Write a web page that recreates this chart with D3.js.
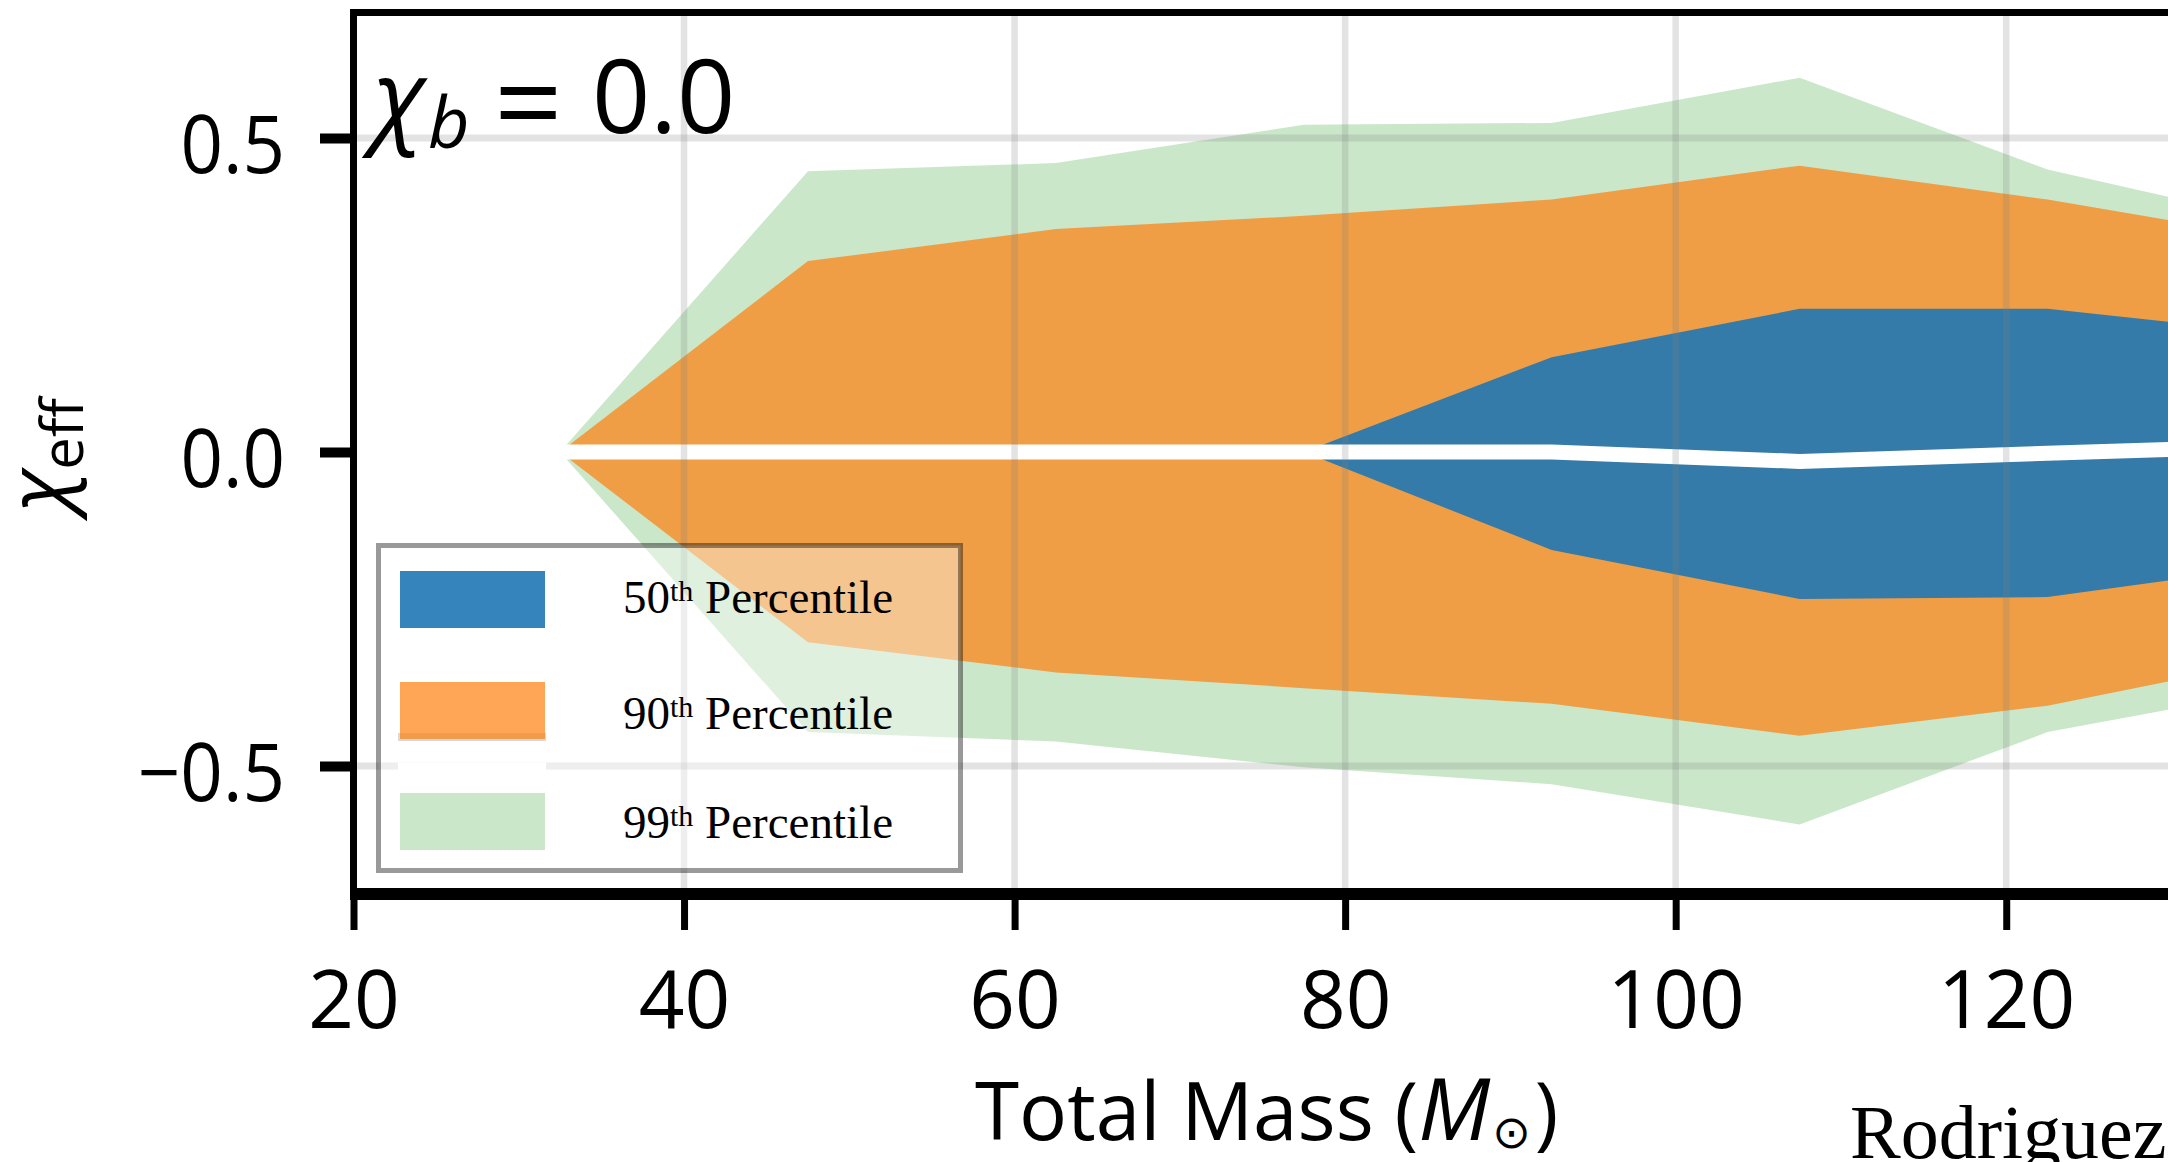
<!DOCTYPE html>
<html>
<head>
<meta charset="utf-8">
<script src="https://cdn.jsdelivr.net/npm/d3@7"></script>
<style>
  html, body { margin: 0; padding: 0; background: #fff; }
  svg { display: block; }
</style>
</head>
<body>
<svg id="chart" width="2168" height="1162"></svg>
<script>
// Bin centres (total mass, solar masses) and percentile bands of chi_eff.
const mass = [32.5, 47.5, 62.5, 77.5, 92.5, 107.5, 122.5, 137.5];
const p99Upper = [0, 0.447, 0.460, 0.521, 0.524, 0.596, 0.450, 0.360];
const p99Lower = [0, -0.446, -0.461, -0.502, -0.529, -0.593, -0.446, -0.373];
const p90Upper = [0, 0.304, 0.355, 0.376, 0.402, 0.456, 0.402, 0.335];
const p90Lower = [0, -0.303, -0.351, -0.376, -0.401, -0.452, -0.404, -0.325];
const p50Upper = [0, 0, 0, 0, 0.151, 0.228, 0.228, 0.186];
const p50Lower = [0, 0, 0, 0, -0.156, -0.234, -0.231, -0.177];
const median = [0, 0, 0, 0, 0, -0.015, -0.002, 0.010];

const xTicks = [20, 40, 60, 80, 100, 120];
const xTickLabels = ['20', '40', '60', '80', '100', '120'];
const yTicks = [-0.5, 0, 0.5];
const yTickLabels = ['\u22120.5', '0.0', '0.5'];
const percentiles = ['50', '90', '99'];

const svg = d3.select('#chart');
const plot = {left: 353.5, right: 2171.5, top: 12.4, bottom: 891.6};

const x = d3.scaleLinear().domain([20, 130]).range([plot.left, plot.right]);
const y = d3.scaleLinear().domain([-0.7, 0.7]).range([plot.bottom, plot.top]);

const sans = '"Open Sans", "Noto Sans", sans-serif';
const serif = '"Liberation Serif", "DejaVu Serif", serif';

svg.append('defs').append('clipPath').attr('id', 'plotClip')
    .append('rect')
    .attr('x', plot.left).attr('y', plot.top)
    .attr('width', plot.right - plot.left)
    .attr('height', plot.bottom - plot.top);

const body = svg.append('g').attr('clip-path', 'url(#plotClip)');

// Bands keyed by percentile; drawn widest first so narrow ones sit on top.
const bands = {
  '99': {lo: p99Lower, hi: p99Upper, color: '#2ca02c', alpha: 0.25},
  '90': {lo: p90Lower, hi: p90Upper, color: '#ff7f0e', alpha: 0.7},
  '50': {lo: p50Lower, hi: p50Upper, color: '#1f77b4', alpha: 0.9},
};
['99', '90', '50'].forEach(k => {
  const b = bands[k];
  const area = d3.area()
      .x((d, i) => x(mass[i]))
      .y0((d, i) => y(b.lo[i]))
      .y1((d, i) => y(b.hi[i]));
  body.append('path')
      .attr('d', area(mass))
      .attr('fill', b.color)
      .attr('fill-opacity', b.alpha);
});

// Horizontal grid (the zero line is hidden under the median).
body.selectAll('.hgrid')
    .data(yTicks.filter(d => d !== 0))
    .join('line')
    .attr('x1', plot.left).attr('x2', plot.right)
    .attr('y1', d => y(d)).attr('y2', d => y(d))
    .attr('stroke', '#808080').attr('stroke-opacity', 0.22)
    .attr('stroke-width', 7);

const line = d3.line().x((d, i) => x(mass[i])).y(d => y(d));
body.append('path')
    .attr('d', line(median))
    .attr('fill', 'none')
    .attr('stroke', '#fff')
    .attr('stroke-width', 15);

body.selectAll('.vgrid')
    .data(xTicks)
    .join('line')
    .attr('x1', d => x(d)).attr('x2', d => x(d))
    .attr('y1', plot.top).attr('y2', plot.bottom)
    .attr('stroke', '#808080').attr('stroke-opacity', 0.22)
    .attr('stroke-width', 6.5);

// Legend
const legend = svg.append('g');
legend.append('rect')
    .attr('x', 378.5).attr('y', 545.5)
    .attr('width', 582).attr('height', 325)
    .attr('fill', '#fff').attr('fill-opacity', 0.4)
    .attr('stroke', '#000').attr('stroke-opacity', 0.4)
    .attr('stroke-width', 5);
legend.append('line')
    .attr('x1', 398).attr('x2', 546).attr('y1', 737).attr('y2', 737)
    .attr('stroke', '#d9d9d9').attr('stroke-width', 8);
legend.append('line')
    .attr('x1', 398).attr('x2', 546).attr('y1', 766.5).attr('y2', 766.5)
    .attr('stroke', '#fff').attr('stroke-width', 8);

const rowTop = [571, 682, 793];
const rowBase = [613, 729, 838];
percentiles.forEach((p, i) => {
  const b = bands[p];
  legend.append('rect')
      .attr('x', 400).attr('y', rowTop[i])
      .attr('width', 145).attr('height', 57)
      .attr('fill', b.color).attr('fill-opacity', b.alpha);
  const t = legend.append('text')
      .attr('x', 623).attr('y', rowBase[i])
      .attr('font-family', serif).attr('font-size', 47).attr('fill', '#000');
  t.append('tspan').text(p);
  t.append('tspan').attr('font-size', 30).attr('dy', -12.5).text('th');
  t.append('tspan').attr('dy', 12.5).text(' Percentile');
});

// Frame
const frame = svg.append('g').attr('stroke', '#000').attr('fill', 'none');
frame.append('line')
    .attr('x1', plot.left - 3.5).attr('x2', 2168)
    .attr('y1', plot.top).attr('y2', plot.top).attr('stroke-width', 7);
frame.append('line')
    .attr('x1', plot.left).attr('x2', plot.left)
    .attr('y1', plot.top - 3.5).attr('y2', 900).attr('stroke-width', 7);
frame.append('line')
    .attr('x1', plot.left).attr('x2', 2168)
    .attr('y1', 891).attr('y2', 891).attr('stroke-width', 6);
frame.append('line')
    .attr('x1', plot.left).attr('x2', 2168)
    .attr('y1', 897).attr('y2', 897).attr('stroke-width', 6);

// Axes
const xAxis = svg.append('g')
    .attr('transform', 'translate(0,897)')
    .call(d3.axisBottom(x).tickValues(xTicks)
        .tickFormat((d, i) => xTickLabels[i]).tickSize(33));
xAxis.select('.domain').remove();
xAxis.selectAll('.tick line').attr('stroke', '#000').attr('stroke-width', 7);
xAxis.selectAll('.tick text')
    .attr('y', 131).attr('dy', null)
    .attr('font-family', sans).attr('font-size', 80).attr('fill', '#000');

const yAxis = svg.append('g')
    .attr('transform', `translate(${plot.left},0)`)
    .call(d3.axisLeft(y).tickValues(yTicks)
        .tickFormat((d, i) => yTickLabels[i]).tickSize(33.5).tickPadding(35));
yAxis.select('.domain').remove();
yAxis.selectAll('.tick line').attr('stroke', '#000').attr('stroke-width', 10);
yAxis.selectAll('.tick text')
    .attr('dy', '0.43em')
    .attr('font-family', sans).attr('font-size', 80).attr('fill', '#000')
    .each(function() {
      // labels in the source are a touch narrower than Open Sans
      const w = this.getComputedTextLength();
      d3.select(this).attr('textLength', w * 0.93)
          .attr('lengthAdjust', 'spacingAndGlyphs');
    });

// Axis titles
const xTitle = svg.append('text')
    .attr('x', 975).attr('y', 1140)
    .attr('font-family', sans).attr('font-size', 80).attr('fill', '#000');
xTitle.append('tspan').text('Total Mass (');
xTitle.append('tspan').attr('font-style', 'italic').attr('font-size', 86).text('M');
xTitle.append('tspan')
    .attr('font-family', '"DejaVu Sans", sans-serif')
    .attr('font-size', 46).attr('dx', 2).attr('dy', 8).text('\u2299');
xTitle.append('tspan').attr('dx', 4).attr('dy', -8).text(')');

const yTitle = svg.append('text')
    .attr('transform', 'translate(67,455) rotate(-90)')
    .attr('text-anchor', 'middle')
    .attr('font-family', sans).attr('font-size', 84).attr('fill', '#000');
yTitle.append('tspan').attr('font-style', 'italic').text('\u03c7');
yTitle.append('tspan').attr('font-size', 58).attr('dy', 16).text('eff');

// Panel annotation
const note = svg.append('text')
    .attr('y', 133)
    .attr('font-family', sans).attr('font-size', 102).attr('fill', '#000');
note.append('tspan').attr('x', 373).attr('font-style', 'italic').text('\u03c7');
note.append('tspan').attr('x', 428).attr('dy', 15)
    .attr('font-style', 'italic').attr('font-size', 72).text('b');
note.append('tspan').attr('x', 494).attr('dy', -2)
    .attr('font-size', 120).text('=');
note.append('tspan').attr('x', 592).attr('dy', -13).text('0.0');

svg.append('text')
    .attr('x', 1850).attr('y', 1158)
    .attr('font-family', serif).attr('font-size', 76).attr('fill', '#000')
    .text('Rodriguez');
</script>
</body>
</html>
